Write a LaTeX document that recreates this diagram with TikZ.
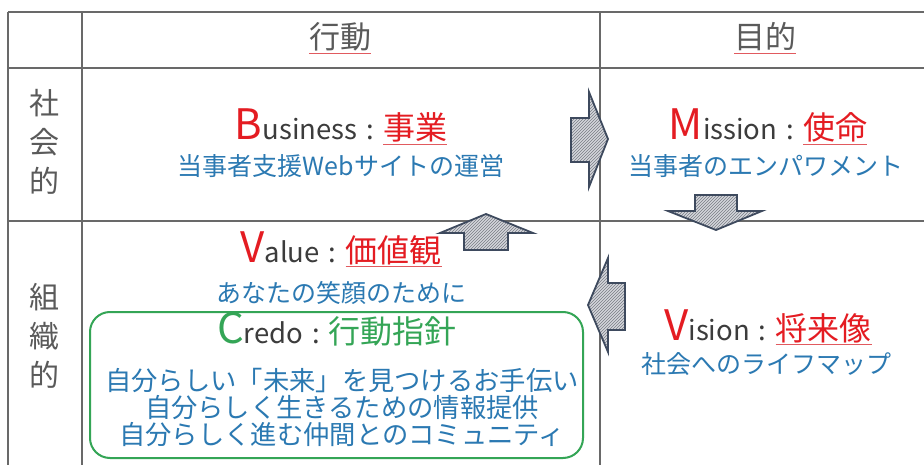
\documentclass[tikz,border=0pt]{standalone}
\usepackage{fontspec}
\setmainfont{Noto Sans CJK JP}
\usetikzlibrary{patterns}
\definecolor{gridc}{RGB}{105,105,105}
\definecolor{labelc}{RGB}{90,90,90}
\definecolor{redc}{RGB}{228,28,34}
\definecolor{darkc}{RGB}{60,60,60}
\definecolor{bluec}{RGB}{43,121,178}
\definecolor{greenc}{RGB}{52,165,86}
\definecolor{arrowc}{RGB}{62,74,94}
\definecolor{arrowfill}{RGB}{212,214,220}
\definecolor{hatchc}{RGB}{120,124,132}
\definecolor{wavec}{RGB}{225,90,95}
\newcommand\splund[1]{\setbox0\hbox{#1}\rlap{\color{wavec}\rule[-5pt]{\wd0}{0.8pt}}\box0}
\newcommand\ttlline[4]{{\fontsize{42}{42}\selectfont\color{#4}#1}{\fontsize{27.5}{28}\selectfont\color{darkc}#2\hspace*{9pt}:\hspace*{9pt}}{\fontsize{32}{32}\selectfont\color{#4}\splund{#3}}}
\begin{document}
\begin{tikzpicture}[x=1pt,y=-1pt,
  gridline/.style={draw=gridc,line width=1.2pt},
  headtext/.style={font=\fontsize{31}{31}\selectfont,text=labelc,inner sep=0pt},
  rowtext/.style={font=\fontsize{30}{39}\selectfont,text=labelc,align=center,inner sep=0pt},
  titletext/.style={anchor=base,inner sep=0pt},
  bluetext/.style={font=\fontsize{25}{28}\selectfont,text=bluec,inner sep=0pt,align=center},
  blockarrow/.style={draw=arrowc,line width=1.8pt,line join=miter,preaction={fill=arrowfill},pattern=north east lines,pattern color=hatchc}]
\useasboundingbox (0,0) rectangle (924,465);
\fill[white] (0,0) rectangle (924,465);
% grid
\draw[gridline] (8,12) -- (924,12);
\draw[gridline] (8,68) -- (924,68);
\draw[gridline] (8,221) -- (924,221);
\draw[gridline] (8,12) -- (8,465);
\draw[gridline] (82,12) -- (82,465);
\draw[gridline] (600,12) -- (600,465);
% headers
\node[headtext] (hact) at (340,38) {\splund{行動}};
\node[headtext] (hgoal) at (765,38) {\splund{目的}};
\node[rowtext] (rsoc) at (44,142) {社\\会\\的};
\node[rowtext] (rorg) at (44,336) {組\\織\\的};
% Business
\node[titletext] (bus) at (341,140) {\ttlline{B}{usiness}{事業}{redc}};
\node[bluetext] (busd) at (341,166) {当事者支援Webサイトの運営};
% Mission
\node[titletext] (mis) at (768,140) {\ttlline{M}{ission}{使命}{redc}};
\node[bluetext] (misd) at (766,166) {当事者のエンパワメント};
% Value
\node[titletext] (val) at (341,262) {\ttlline{V}{alue}{価値観}{redc}};
\node[bluetext] (vald) at (341,293) {あなたの笑顔のために};
% Vision
\node[titletext] (vis) at (768,340) {\ttlline{V}{ision}{将来像}{redc}};
\node[bluetext] (visd) at (766,364) {社会へのライフマップ};
% Credo box
\draw[draw=greenc,line width=2pt,rounded corners=20pt] (90,312) rectangle (583,458);
\node[titletext] (cre) at (337,343) {{\fontsize{42}{42}\selectfont\color{greenc}C}{\fontsize{27.5}{28}\selectfont\color{darkc}redo\hspace*{9pt}:\hspace*{9pt}}{\fontsize{32}{32}\selectfont\color{greenc}行動指針}};
\node[bluetext,font=\fontsize{26.3}{27}\selectfont] (cred) at (342,407) {自分らしい「未来」を見つけるお手伝い\\自分らしく生きるための情報提供\\自分らしく進む仲間とのコミュニティ};
% arrows
\draw[blockarrow] (571,118) -- (589,118) -- (589,92) -- (608,139) -- (589,187) -- (589,162) -- (571,162) -- cycle;
\draw[blockarrow] (695,195) -- (737,195) -- (737,211) -- (762,211) -- (716,230) -- (668,211) -- (695,211) -- cycle;
\draw[blockarrow] (625,283) -- (608,283) -- (608,258) -- (588,305) -- (608,352) -- (608,330) -- (625,330) -- cycle;
\draw[blockarrow] (464,250) -- (464,233) -- (440,233) -- (486,214) -- (533,233) -- (508,233) -- (508,250) -- cycle;
\end{tikzpicture}
\end{document}
